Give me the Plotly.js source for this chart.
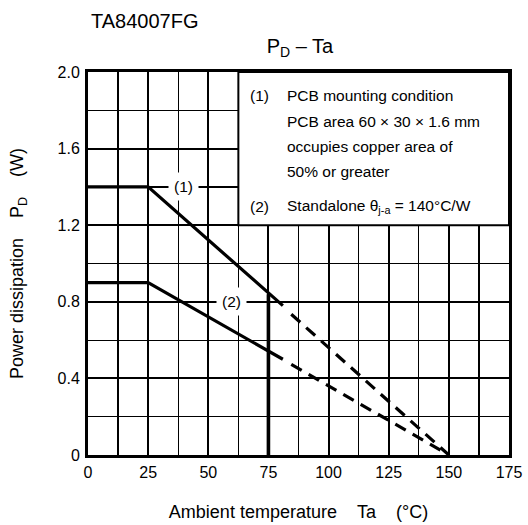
<!DOCTYPE html>
<html>
<head>
<meta charset="utf-8">
<script src="https://cdn.plot.ly/plotly-3.0.1.min.js"></script>
<style>html,body{margin:0;padding:0;background:#fff}#c{width:528px;height:525px}</style>
</head>
<body>
<div id="c"></div>
<script>
// Curve (1): PCB mounted
const c1SolidX = [0, 25, 81];
const c1SolidY = [1.4, 1.4, 0.78];
const c1DashX = [84.5, 150];
const c1DashY = [0.735, 0];
// Curve (2): standalone
const c2SolidX = [0, 25, 81];
const c2SolidY = [0.9, 0.9, 0.5];
const c2DashX = [84.5, 150];
const c2DashY = [0.473, 0];
// Vertical limit at Ta = 75
const limX = [75, 75];
const limY = [0, 0.84];

const xTicks = [0, 25, 50, 75, 100, 125, 150, 175];
const yTicks = [0, 0.4, 0.8, 1.2, 1.6, 2.0];
const yTickText = ['0', '0.4', '0.8', '1.2', '1.6', '2.0'];

const noteLines = [
  {x: 66.5, y: 1.875, t: '(1)'},
  {x: 82, y: 1.875, t: 'PCB mounting condition'},
  {x: 82, y: 1.741, t: 'PCB area 60 \u00d7 30 \u00d7 1.6 mm'},
  {x: 82, y: 1.610, t: 'occupies copper area of'},
  {x: 82, y: 1.479, t: '50% or greater'},
  {x: 66.5, y: 1.297, t: '(2)'},
  {x: 82, y: 1.297, t: 'Standalone \u03b8<sub>j-a</sub> = 140\u00b0C/W'}
];
const curveLabels = [
  {x: 39.6, y: 1.4, t: '(1)'},
  {x: 59.6, y: 0.8, t: '(2)'}
];

const solid = {color: '#000', width: 3.2};
const dashed = {color: '#000', width: 3.2, dash: '12px,8px'};
const traces = [
  {x: c1SolidX, y: c1SolidY, mode: 'lines', line: solid},
  {x: c1DashX, y: c1DashY, mode: 'lines', line: dashed},
  {x: c2SolidX, y: c2SolidY, mode: 'lines', line: solid},
  {x: c2DashX, y: c2DashY, mode: 'lines', line: dashed},
  {x: limX, y: limY, mode: 'lines', line: {color: '#000', width: 3.6}}
];

const fam = 'Liberation Sans, Arial, sans-serif';
const f = s => ({family: fam, size: s, color: '#000'});
const annotations = [];
noteLines.forEach(n => annotations.push({x: n.x, y: n.y, xref: 'x', yref: 'y', text: n.t, showarrow: false, xanchor: 'left', yanchor: 'middle', font: f(15.5)}));
curveLabels.forEach(n => annotations.push({x: n.x, y: n.y, xref: 'x', yref: 'y', text: n.t, showarrow: false, xanchor: 'center', yanchor: 'middle', bgcolor: '#fff', borderpad: 5, font: f(15.5)}));
annotations.push({x: 0.002, y: 1.133, xref: 'paper', yref: 'paper', xanchor: 'left', yanchor: 'middle', text: 'TA84007FG', showarrow: false, font: f(20)});

const sp = '\u00a0\u00a0\u00a0\u00a0';
const layout = {
  width: 528, height: 525,
  margin: {l: 88, r: 19, t: 72, b: 70},
  paper_bgcolor: '#fff', plot_bgcolor: '#fff',
  showlegend: false,
  font: f(16),
  title: {text: 'P<sub>D</sub> \u2013 Ta', font: f(20), x: 0.568, xanchor: 'center', y: 0.912, yanchor: 'middle'},
  xaxis: {
    range: [0, 175], tickvals: xTicks, ticks: '', showline: true, mirror: true, linecolor: '#000', linewidth: 3,
    showgrid: true, gridcolor: '#000', gridwidth: 2, zeroline: false,
    minor: {dtick: 12.5, tick0: 0, showgrid: true, gridcolor: '#000', gridwidth: 1.2, ticks: ''},
    tickfont: f(16), ticklabelstandoff: 1,
    title: {text: 'Ambient temperature' + sp + 'Ta' + sp + '(\u00b0C)', font: f(18), standoff: 26},
    fixedrange: true
  },
  yaxis: {
    range: [0, 2.0], tickvals: yTicks, ticktext: yTickText, ticks: '', showline: true, mirror: true, linecolor: '#000', linewidth: 3,
    showgrid: true, gridcolor: '#000', gridwidth: 2, zeroline: false,
    minor: {dtick: 0.2, tick0: 0, showgrid: true, gridcolor: '#000', gridwidth: 1.2, ticks: ''},
    tickfont: f(16), ticklabelstandoff: 2,
    title: {text: 'Power dissipation' + sp + 'P<sub>D</sub>' + sp + '(W)', font: f(18), standoff: 30},
    fixedrange: true
  },
  shapes: [
    {type: 'rect', xref: 'x', yref: 'y', x0: 62.5, x1: 175, y0: 1.2, y1: 2.0, fillcolor: '#fff', line: {color: '#000', width: 2}, layer: 'between'}
  ],
  annotations: annotations
};
Plotly.newPlot('c', traces, layout, {staticPlot: true});
</script>
</body>
</html>
